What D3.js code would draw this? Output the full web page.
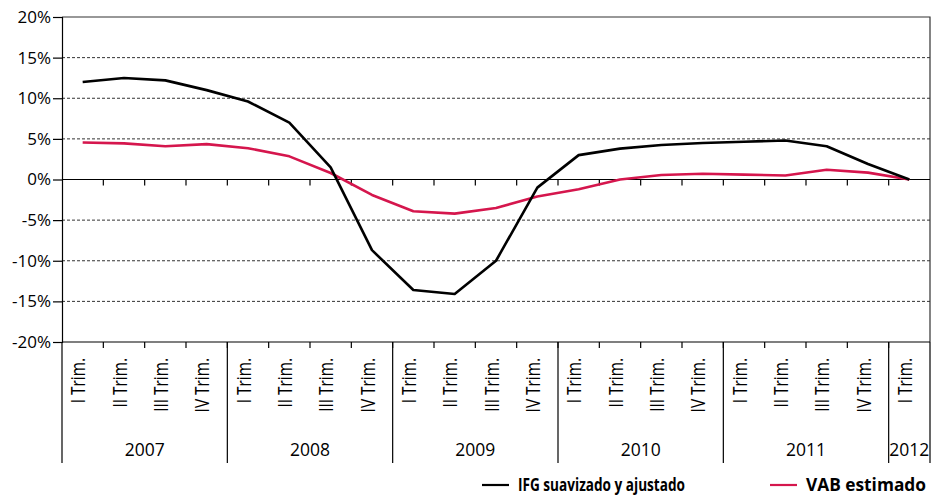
<!DOCTYPE html>
<html lang="es">
<head>
<meta charset="UTF-8">
<title>IFG vs VAB</title>
<script src="https://d3js.org/d3.v7.min.js"></script>
<style>
  body { margin: 0; background: #fff; }
  svg { display: block; font-family: "Open Sans", sans-serif; }
</style>
</head>
<body>
<script>
    // quarters, 2007 I .. 2012 I
    const quarterLabels = [
        "I Trim.", "II Trim.", "III Trim.", "IV Trim.",
        "I Trim.", "II Trim.", "III Trim.", "IV Trim.",
        "I Trim.", "II Trim.", "III Trim.", "IV Trim.",
        "I Trim.", "II Trim.", "III Trim.", "IV Trim.",
        "I Trim.", "II Trim.", "III Trim.", "IV Trim.",
        "I Trim."
    ];
    const years = ["2007", "2008", "2009", "2010", "2011", "2012"];
    const quartersPerYear = [4, 4, 4, 4, 4, 1];

    // % values
    const ifg = [12.0, 12.5, 12.2, 11.0, 9.6, 7.0, 1.5, -8.7, -13.6, -14.1, -10.0,
                 -1.0, 3.0, 3.8, 4.25, 4.5, 4.65, 4.8, 4.1, 1.9, 0.0];
    const vab = [4.55, 4.45, 4.1, 4.35, 3.85, 2.85, 0.8, -1.9, -3.9, -4.2, -3.5,
                 -2.1, -1.2, 0.0, 0.55, 0.7, 0.6, 0.5, 1.2, 0.85, 0.0];

    const yTicks = [20, 15, 10, 5, 0, -5, -10, -15, -20];

    const width = 933, height = 495;
    const plotL = 62, plotR = 930, plotT = 17, plotB = 342;

    const svg = d3.select("body").append("svg")
        .attr("width", width)
        .attr("height", height);

    const x = d3.scaleBand()
        .domain(d3.range(quarterLabels.length))
        .range([plotL, plotR])
        .padding(0);
    const y = d3.scaleLinear()
        .domain([-20, 20])
        .range([plotB, plotT]);
    const cx = i => x(i) + x.bandwidth() / 2;

    // gridlines (dashed)
    svg.append("g")
        .selectAll("line")
        .data(yTicks.filter(d => d !== 0 && d !== 20 && d !== -20))
        .join("line")
        .attr("x1", plotL).attr("x2", plotR)
        .attr("y1", d => y(d)).attr("y2", d => y(d))
        .attr("stroke", "#333")
        .attr("stroke-width", 1)
        .attr("stroke-dasharray", "3,2");

    // frame top + right
    svg.append("path")
        .attr("d", `M${plotL},${y(20)}H${plotR}V${plotB}`)
        .attr("fill", "none")
        .attr("stroke", "#333")
        .attr("stroke-width", 1.2);

    // y axis
    const yAxis = d3.axisLeft(y)
        .tickValues(yTicks)
        .tickSize(9)
        .tickPadding(2)
        .tickFormat(d => d + "%");
    const gy = svg.append("g")
        .attr("transform", `translate(${plotL},0)`)
        .call(yAxis);
    gy.select(".domain").attr("stroke", "#000").attr("stroke-width", 1.2);
    gy.selectAll(".tick line").attr("stroke", "#000").attr("stroke-width", 1.2);
    gy.selectAll(".tick text")
        .attr("font-size", 17)
        .attr("font-family", "Open Sans")
        .attr("fill", "#000");

    // category boundaries
    const bounds = d3.range(1, quarterLabels.length).map(i => x(i));

    // zero line with small ticks
    svg.append("line")
        .attr("x1", plotL).attr("x2", plotR)
        .attr("y1", y(0)).attr("y2", y(0))
        .attr("stroke", "#000").attr("stroke-width", 1.2);
    svg.append("g").selectAll("line")
        .data(bounds)
        .join("line")
        .attr("x1", d => d).attr("x2", d => d)
        .attr("y1", y(0)).attr("y2", y(0) + 6)
        .attr("stroke", "#000").attr("stroke-width", 1.2);

    // bottom line with ticks
    svg.append("line")
        .attr("x1", plotL).attr("x2", plotR)
        .attr("y1", plotB).attr("y2", plotB)
        .attr("stroke", "#000").attr("stroke-width", 1.2);
    svg.append("g").selectAll("line")
        .data(bounds)
        .join("line")
        .attr("x1", d => d).attr("x2", d => d)
        .attr("y1", plotB).attr("y2", plotB + 6)
        .attr("stroke", "#000").attr("stroke-width", 1.2);

    // year separators and labels
    let start = 0;
    const yearSpans = years.map((yr, k) => {
        const s = start;
        start += quartersPerYear[k];
        return {year: yr, s: s, e: start};
    });
    const endX = d => d.e < quarterLabels.length ? x(d.e) : plotR;
    const sepX = [plotL].concat(yearSpans.map(endX));
    svg.append("g").selectAll("line")
        .data(sepX)
        .join("line")
        .attr("x1", d => d).attr("x2", d => d)
        .attr("y1", plotB).attr("y2", 463)
        .attr("stroke", "#000").attr("stroke-width", 1.2);

    svg.append("g").selectAll("text")
        .data(yearSpans)
        .join("text")
        .attr("x", d => (x(d.s) + endX(d)) / 2)
        .attr("y", 456)
        .attr("text-anchor", "middle")
        .attr("font-size", 17.5)
        .text(d => d.year);

    // quarter labels, rotated (condensed look via scale)
    svg.append("g").selectAll("text")
        .data(quarterLabels)
        .join("text")
        .attr("transform", (d, i) => `translate(${cx(i) + 2.5},358) rotate(-90) scale(0.77,1)`)
        .attr("text-anchor", "end")
        .attr("font-size", 20)
        .text(d => d);

    // lines
    const line = d3.line()
        .x((d, i) => cx(i))
        .y(d => y(d));

    svg.append("path")
        .datum(vab)
        .attr("d", line)
        .attr("fill", "none")
        .attr("stroke", "#d5164d")
        .attr("stroke-width", 2.6)
        .attr("stroke-linejoin", "round");

    svg.append("path")
        .datum(ifg)
        .attr("d", line)
        .attr("fill", "none")
        .attr("stroke", "#000")
        .attr("stroke-width", 2.6)
        .attr("stroke-linejoin", "round");

    // legend
    const legend = [
        {name: "IFG suavizado y ajustado", color: "#000", x: 482, w: 167},
        {name: "VAB estimado", color: "#d5164d", x: 770, w: 120}
    ];
    const lg = svg.append("g").selectAll("g")
        .data(legend)
        .join("g")
        .attr("transform", d => `translate(${d.x},485)`);
    lg.append("line")
        .attr("x1", 0).attr("x2", 27)
        .attr("stroke", d => d.color)
        .attr("stroke-width", 2.2);
    lg.append("text")
        .attr("x", 36)
        .attr("y", 5.5)
        .attr("font-size", 18.5)
        .attr("font-weight", "bold")
        .attr("textLength", d => d.w)
        .attr("lengthAdjust", "spacingAndGlyphs")
        .text(d => d.name);
</script>
</body>
</html>
